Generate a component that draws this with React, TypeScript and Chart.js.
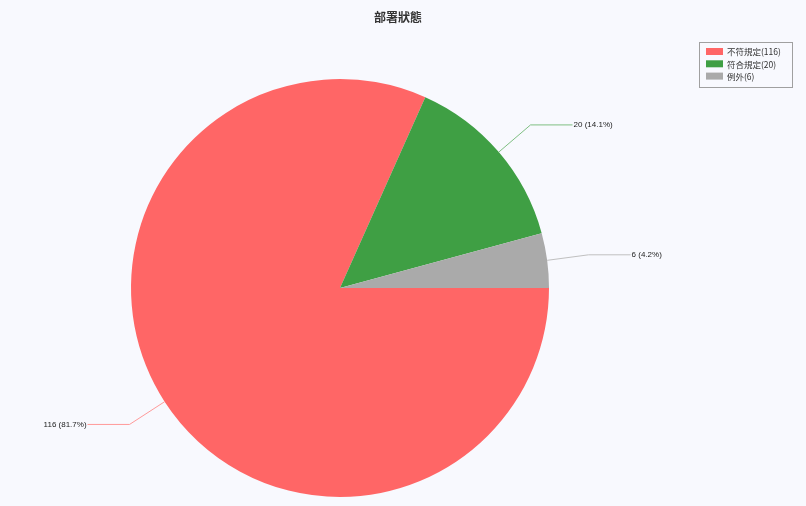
import React, { useEffect, useRef } from "react";
import { Chart, registerables } from "chart.js";

Chart.register(...registerables);

const TITLE = "部署狀態";
const categories = ["不符規定", "符合規定", "例外"];
const counts = [116, 20, 6];
const sliceColors = ["#ff6666", "#3f9f44", "#aaaaaa"];
const lineColors = ["#ff9a9a", "#7fbf82", "#c0c0c0"];
const BG = "#f8f9fe";

const overlayPlugin = {
  id: "overlay",
  beforeDraw(chart: any) {
    const ctx = chart.ctx;
    ctx.save();
    ctx.fillStyle = BG;
    ctx.fillRect(0, 0, chart.width, chart.height);
    ctx.restore();
  },
  afterDraw(chart: any) {
    const ctx = chart.ctx;
    const total = counts.reduce((a, b) => a + b, 0);
    ctx.save();
    // title
    ctx.fillStyle = "#333333";
    ctx.font = "bold 12px 'Noto Sans CJK TC', 'Noto Sans', sans-serif";
    ctx.textAlign = "center";
    ctx.textBaseline = "middle";
    ctx.fillText(TITLE, 398, 17.5);

    // slice labels
    const meta = chart.getDatasetMeta(0);
    meta.data.forEach((arc: any, i: number) => {
      const { x, y, startAngle, endAngle, outerRadius } = arc.getProps(
        ["x", "y", "startAngle", "endAngle", "outerRadius"],
        true
      );
      const mid = (startAngle + endAngle) / 2;
      const cos = Math.cos(mid);
      const sin = Math.sin(mid);
      const p0x = x + outerRadius * cos;
      const p0y = y + outerRadius * sin;
      const p1x = x + outerRadius * 1.2 * cos;
      const p1y = y + outerRadius * 1.2 * sin;
      const right = cos >= 0;
      const p2x = p1x + (right ? 42 : -42);
      ctx.strokeStyle = lineColors[i];
      ctx.lineWidth = 1;
      ctx.beginPath();
      ctx.moveTo(p0x, p0y);
      ctx.lineTo(p1x, p1y);
      ctx.lineTo(p2x, p1y);
      ctx.stroke();
      const pct = ((counts[i] / total) * 100).toFixed(1);
      ctx.fillStyle = "#222222";
      ctx.font = "8px 'Liberation Sans', Arial, sans-serif";
      ctx.textBaseline = "middle";
      ctx.textAlign = right ? "left" : "right";
      ctx.fillText(`${counts[i]} (${pct}%)`, p2x + (right ? 1 : -1), p1y);
    });

    // legend
    const bx = 699.5, by = 42.5, bw = 93, bh = 45;
    ctx.strokeStyle = "#a0a0a0";
    ctx.lineWidth = 1;
    ctx.strokeRect(bx, by, bw, bh);
    categories.forEach((c, i) => {
      const cy = 51.5 + i * 12.3;
      ctx.fillStyle = sliceColors[i];
      ctx.fillRect(706, cy - 3.5, 17, 7);
      ctx.fillStyle = "#333333";
      ctx.font = "8.5px 'Noto Sans CJK TC', 'Noto Sans', sans-serif";
      ctx.textAlign = "left";
      ctx.textBaseline = "middle";
      ctx.fillText(`${c}(${counts[i]})`, 727, cy + 0.5);
    });
    ctx.restore();
  },
};

export default function App() {
  const ref = useRef<HTMLCanvasElement | null>(null);
  useEffect(() => {
    document.body.style.margin = "0";
    document.body.style.background = BG;
    const canvas = ref.current!;
    const chart = new Chart(canvas, {
      type: "pie",
      data: {
        labels: categories,
        datasets: [
          {
            data: counts,
            backgroundColor: sliceColors,
            borderWidth: 0,
            hoverOffset: 0,
          },
        ],
      },
      options: {
        animation: false,
        responsive: false,
        rotation: 90,
        layout: { padding: { left: 131, right: 257, top: 79, bottom: 9 } },
        plugins: {
          legend: { display: false },
          title: { display: false },
          tooltip: { enabled: false },
        },
        events: [],
      },
      plugins: [overlayPlugin],
    });
    return () => chart.destroy();
  }, []);
  return (
    <div style={{ width: 806, height: 506, background: BG }}>
      <canvas ref={ref} width={806} height={506} style={{ display: "block" }} />
    </div>
  );
}
